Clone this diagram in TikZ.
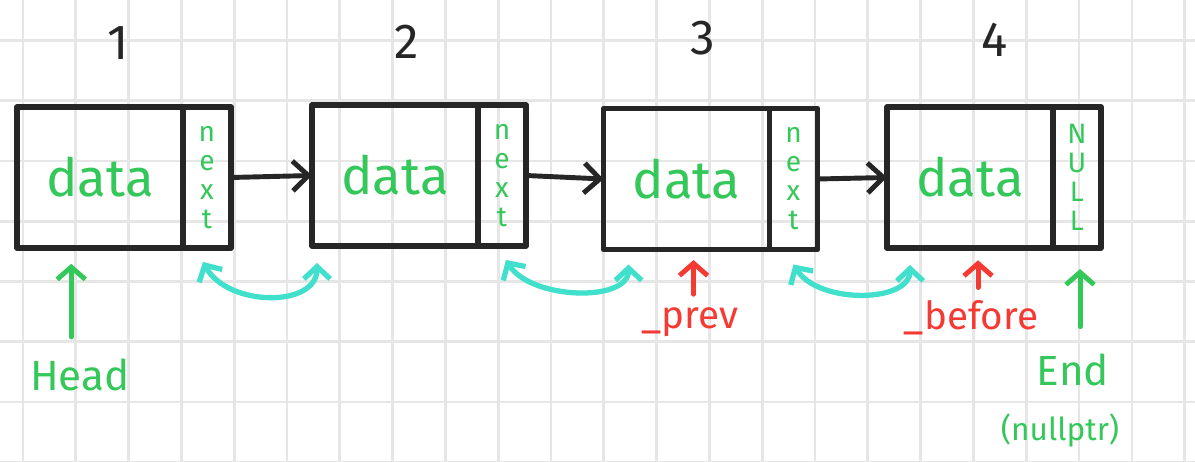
\documentclass[tikz,border=0pt]{standalone}
\usepackage{fontspec}
\setmainfont{Fira Sans}
\usetikzlibrary{positioning,arrows.meta,calc}
\definecolor{ink}{RGB}{38,38,38}
\definecolor{pengreen}{RGB}{52,199,89}
\definecolor{penred}{RGB}{245,58,52}
\definecolor{pencyan}{RGB}{64,224,204}
\definecolor{gridgray}{RGB}{230,230,230}
\newcommand{\lnode}[4]{% x, y, name, pointer text   (data cell + pointer cell)
  \node[datacell] (d#3) at (#1,#2) {data};
  \node[ptrcell,right=0pt of d#3] (p#3) {#4};}

\begin{document}
\begin{tikzpicture}[x=0.02cm,y=-0.02cm,line cap=round,line join=round,
  datacell/.style={draw=ink,line width=3.2pt,minimum width=3.32cm,minimum height=2.82cm,
    inner sep=0,outer sep=0,text=pengreen,font=\fontsize{30}{30}\selectfont},
  ptrcell/.style={draw=ink,line width=3.2pt,minimum width=0.96cm,minimum height=2.82cm,
    inner sep=0,outer sep=0,text=pengreen,align=center,font=\fontsize{16}{16.5}\selectfont},
  link/.style={draw=ink,line width=2.8pt,-{Straight Barb[length=9pt,width=17pt]}},
  hop/.style={draw=pencyan,line width=3pt,
    {Straight Barb[length=7pt,width=15pt]}-{Straight Barb[length=7pt,width=15pt]}},
  rptr/.style={draw=penred,line width=2.8pt,-{Straight Barb[length=7pt,width=16pt]}},
  gptr/.style={draw=pengreen,line width=2.8pt,-{Straight Barb[length=7pt,width=16pt]}},
  num/.style={text=ink,font=\fontsize{28}{28}\selectfont},
  redlbl/.style={text=penred,font=\fontsize{22}{22}\selectfont},
  greenlbl/.style={text=pengreen,font=\fontsize{24}{24}\selectfont},
  gridline/.style={draw=gridgray,line width=1.5pt}]
  \fill[white] (0,0) rectangle (1195,462);
  \useasboundingbox (0,0) rectangle (1195,462);
  % paper grid
  \foreach \gx in {0,...,22}
    \draw[gridline] ({23+52.8*\gx},0) -- ({23+52.8*\gx},462);
  \foreach \gy in {0,...,7}
    \draw[gridline] (0,{40.3+60.3*\gy}) -- (1195,{40.3+60.3*\gy});
  % ---- the four list nodes ----
  \lnode{100}{177.5}{1}{n\\e\\x\\t}
  \lnode{395}{175.5}{2}{n\\e\\x\\t}
  \lnode{686.5}{179}{3}{n\\e\\x\\t}
  \lnode{970}{177.5}{4}{N\\U\\L\\L}
  \node[num] (n1) at (118,43) {1};
  \node[num] (n2) at (407,42) {2};
  \node[num] (n3) at (703,38) {3};
  \node[num] (n4) at (995,40) {4};
  % next pointers
  \draw[link] (p1.east) -- (d2.west);
  \draw[link] (p2.east) -- (d3.west);
  \draw[link] (p3.east) -- (d4.west);
  % cyan links under the cells
  \draw[hop] ($(p1.south)+(-4,14)$) .. controls +(25,45) and +(0,45) .. ($(d2.south west)+(5,17)$);
  \draw[hop] ($(p2.south)+(4,14)$) .. controls +(25,40) and +(0,38) .. ($(d3.south west)+(25,15)$);
  \draw[hop] ($(p3.south)+(0,15)$) .. controls +(25,40) and +(0,38) .. ($(d4.south west)+(23,17)$);
  % labels below
  \node[redlbl] (prev) at (690,322) {\_prev};
  \node[redlbl] (before) at (971,318) {\_before};
  \node[greenlbl] (head) at (80,375) {Head};
  \node[greenlbl] (end) at (1073,370) {End};
  \node[greenlbl,font=\fontsize{18}{18}\selectfont] (nullptr) at (1060,431) {(nullptr)};
  \draw[rptr,shorten <=4pt,shorten >=6pt] ([xshift=2pt]prev.north) -- ([xshift=2pt]prev.north |- d3.south);
  \draw[rptr,shorten <=4pt,shorten >=7pt] ([xshift=4pt]before.north) -- ([xshift=4pt]before.north |- d4.south);
  \draw[gptr,shorten <=9pt,shorten >=9pt] ([xshift=-5pt]head.north) -- ([xshift=-5pt]head.north |- d1.south);
  \draw[gptr,shorten <=12pt,shorten >=12pt] ([xshift=4pt]end.north) -- ([xshift=4pt]end.north |- p4.south);
\end{tikzpicture}
\end{document}
